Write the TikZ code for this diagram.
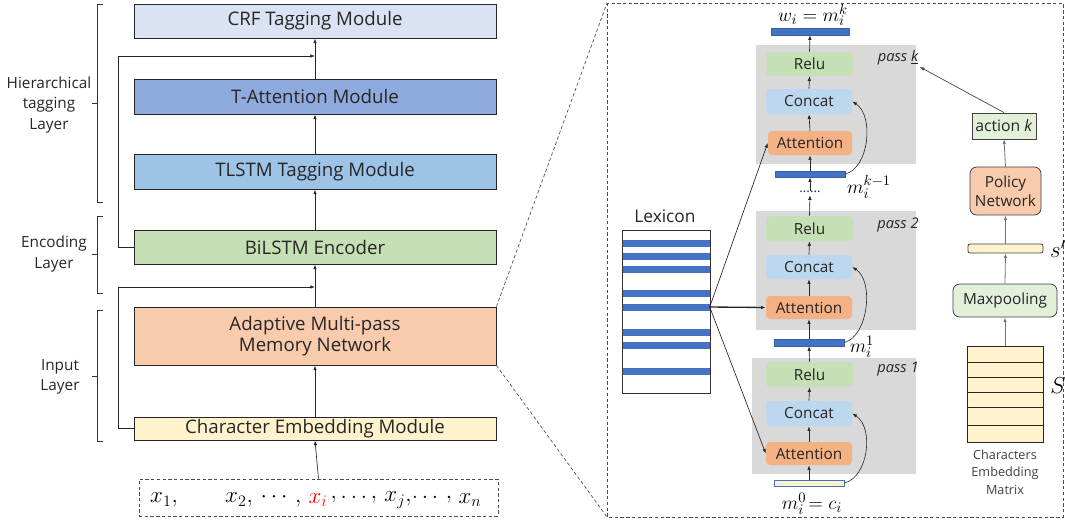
\documentclass[tikz,border=0pt]{standalone}
\usepackage{fontspec}
\setmainfont{Open Sans}
\usetikzlibrary{fit,arrows.meta}
\definecolor{crfc}{HTML}{DAE3F3}
\definecolor{tattc}{HTML}{8FAADC}
\definecolor{tlstmc}{HTML}{9DC3E6}
\definecolor{bilstmc}{HTML}{C5E0B4}
\definecolor{ammnc}{HTML}{F8CBAD}
\definecolor{embc}{HTML}{FFF2CC}
\definecolor{grayc}{HTML}{D9D9D9}
\definecolor{reluc}{HTML}{C5E0B4}
\definecolor{concatc}{HTML}{BDD7EE}
\definecolor{attnc}{HTML}{F4B183}
\definecolor{barc}{HTML}{4472C4}
\definecolor{actc}{HTML}{E2F0D9}
\definecolor{txtc}{HTML}{262626}
\begin{document}
\begin{tikzpicture}[x=0.75pt,y=-0.75pt,
  box/.style={draw=black!85, line width=0.75pt, inner sep=0pt},
  boxt/.style={label={[text=txtc, align=center, font=\fontsize{14}{17}\selectfont]center:#1}},
  smt/.style={label={[text=txtc, align=center, font=\fontsize{11.5}{14}\selectfont]center:#1}},
  arr/.style={-{Latex[length=3.5pt,width=2.6pt]}, line width=0.5pt, black!85},
  garr/.style={-{Latex[length=3.5pt,width=2.6pt]}, line width=0.6pt, black!55},
  inbox/.style={rounded corners=3pt, inner sep=0pt},
  gbox/.style={fill=grayc, inner sep=0pt},
  bar/.style={fill=barc, draw=barc!85!black, line width=0.3pt, inner sep=0pt},
  lbl/.style={text=txtc, font=\fontsize{11.5}{15.5}\selectfont, align=center},
  mth/.style={font=\fontsize{17}{19}\selectfont, inner sep=0pt},
  passlbl/.style={text=txtc, font=\fontsize{11}{13}\selectfont\itshape, inner sep=1pt},
  brk/.style={line width=0.6pt, black!80},
  dsh/.style={dash pattern=on 2.5pt off 1.8pt, line width=0.5pt, black!70}
]
\useasboundingbox (0,0) rectangle (1065,522);

% ---------------- left column ----------------
\node[box, fill=crfc, fit={(134,4) (496,38)}, boxt={CRF Tagging Module}] (crf) {};
\node[box, fill=tattc, fit={(134,79) (496,114)}, boxt={T-Attention Module}] (tatt) {};
\node[box, fill=tlstmc, fit={(134,154) (496,189)}, boxt={TLSTM Tagging Module}] (tlstm) {};
\node[box, fill=bilstmc, fit={(134,230) (496,264)}, boxt={BiLSTM Encoder}] (bilstm) {};
\node[box, fill=ammnc, fit={(134,307) (496,365)}, boxt={Adaptive Multi-pass\\[-1pt]Memory Network}] (ammn) {};
\node[box, fill=embc, fit={(134,417) (496,440)}, boxt={Character Embedding Module}] (emb) {};
\node[draw=black!70, dsh, inner sep=0pt, fit={(139,479) (498,516)}] (inp) {};

\node[mth] (x1) at (164,500) {$x_1,$};
\node[mth] (x2) at (239,500) {$x_2,$};
\node[mth] (xc) at (281,500) {$\cdots\,,$};
\node[mth] (xi) at (318,500) {\color{red}$x_i$};
\node[mth] (xd1) at (354,500) {$,\ldots,$};
\node[mth] (xj) at (398,500) {$x_j,$};
\node[mth] (xd2) at (432,500) {$\ldots\,,$};
\node[mth] (xn) at (470,500) {$x_n$};

\coordinate (j1) at (315,56);
\coordinate (j2) at (315,287);
\draw[arr] (tatt.north) -- (crf.south);
\draw[arr] (tlstm.north) -- (tatt.south);
\draw[arr] (bilstm.north) -- (tlstm.south);
\draw[arr] (ammn.north) -- (bilstm.south);
\draw[arr] (emb.north) -- (ammn.south);
\draw[arr] (inp.north) -- (emb.south);
\draw[arr] (bilstm.west) -- ++(-15,0) |- (j1);
\draw[arr] (emb.west) -- ++(-15,0) |- (j2);

% brackets
\draw[brk] (103,4) -- (97,4) -- (97,202) -- (103,202);
\draw[brk] (97,103) -- (92,103);
\draw[brk] (103,216) -- (97,216) -- (97,293) -- (103,293);
\draw[brk] (97,254) -- (92,254);
\draw[brk] (103,310) -- (97,310) -- (97,441) -- (103,441);
\draw[brk] (97,376) -- (92,376);
\node[lbl] (hl) at (49,105) {Hierarchical\\tagging\\Layer};
\node[lbl] (el) at (54,254) {Encoding\\Layer};
\node[lbl] (il) at (60,377) {Input\\Layer};

% zoom box
\coordinate (rtl) at (607,3);
\coordinate (rbl) at (607,517);
\draw[dsh] (607,3) rectangle (1063,517);
\draw[dsh] (ammn.north east) -- (rtl);
\draw[dsh] (ammn.south east) -- (rbl);

% ---------------- right panel ----------------
\node[gbox, fit={(756,45) (916,164)}] (pk) {};
\node[gbox, fit={(756,211) (916,330)}] (p2) {};
\node[gbox, fit={(752,358) (916,474)}] (p1) {};

\node[passlbl] (lk) at (898,58) {pass \underline{k}};
\node[passlbl] (l2) at (898,225) {pass 2};
\node[passlbl] (l1) at (898,369) {pass 1};

% pass k
\node[inbox, fill=reluc, fit={(766,52) (853,76)}, smt={Relu}] (rk) {};
\node[inbox, fill=concatc, fit={(766,89) (852,114)}, smt={Concat}] (ck) {};
\node[inbox, fill=attnc, fit={(768,131) (852,155)}, smt={Attention}] (ak) {};
% pass 2
\node[inbox, fill=reluc, fit={(766,216) (853,241)}, smt={Relu}] (r2) {};
\node[inbox, fill=concatc, fit={(766,255) (852,279)}, smt={Concat}] (c2) {};
\node[inbox, fill=attnc, fit={(766,296) (852,319)}, smt={Attention}] (a2) {};
% pass 1
\node[inbox, fill=reluc, fit={(766,362) (853,387)}, smt={Relu}] (r1) {};
\node[inbox, fill=concatc, fit={(766,401) (852,426)}, smt={Concat}] (c1) {};
\node[inbox, fill=attnc, fit={(766,442) (852,465)}, smt={Attention}] (a1) {};

% bars
\node[bar, fit={(771,28) (849,35)}] (wb) {};
\node[bar, fit={(775,171) (845,177)}] (bk) {};
\node[bar, fit={(774,339) (844,346)}] (b1) {};
\node[bar, fill=embc, draw=barc, line width=0.6pt, fit={(774,480) (844,486)}] (b0) {};
\node[text=txtc, inner sep=0pt, font=\fontsize{10}{10}\selectfont] (dots) at (810,192) {......};

\node[mth, font=\fontsize{15}{17}\selectfont] (wl) at (813,15) {$w_i = m_i^k$};
\node[mth, font=\fontsize{15}{17}\selectfont] (mkl) at (869,187) {$m_i^{k-1}$};
\node[mth, font=\fontsize{15}{17}\selectfont] (m1l) at (862,347) {$m_i^{1}$};
\node[mth, font=\fontsize{15}{17}\selectfont] (m0l) at (812,504) {$m_i^{0}\!= c_i$};

\draw[arr] (b0.north) -- (a1.south);
\draw[arr] (a1.north) -- (c1.south);
\draw[arr] (c1.north) -- (r1.south);
\draw[arr] (r1.north) -- (b1.south);
\draw[arr] (b1.north) -- (a2.south);
\draw[arr] (a2.north) -- (c2.south);
\draw[arr] (c2.north) -- (r2.south);
\draw[arr] (r2.north) -- ([yshift=-1.5pt]dots.south);
\draw[arr] (dots.north) -- (bk.south);
\draw[arr] (bk.north) -- (ak.south);
\draw[arr] (ak.north) -- (ck.south);
\draw[arr] (ck.north) -- (rk.south);
\draw[arr] (rk.north) -- (wb.south);

\draw[arr, line width=0.45pt] (b0.east) .. controls +(24,-6) and +(22,14) .. (c1.east);
\draw[arr, line width=0.45pt] (b1.east) .. controls +(24,-6) and +(22,14) .. (c2.east);
\draw[arr, line width=0.45pt] (bk.east) .. controls +(24,-6) and +(22,14) .. (ck.east);

% lexicon
\node[lbl, font=\fontsize{13}{15}\selectfont] (lexl) at (665,216) {Lexicon};
\node[draw=black!80, line width=0.6pt, fill=white, inner sep=0pt, fit={(622,230) (710,393)}] (lex) {};
\foreach \yy in {243,256,269,293,332,345,371}{
  \fill[barc] (622.5,\yy-3.5) rectangle (709.5,\yy+3.5);
}
\node[bar, draw=none, fit={(622.5,303.5) (709.5,310.5)}] (s5) {};
\draw[arr, line width=1pt] (s5.east) -- (a2.west);
\draw[arr] (s5.east) -- (ak.west);
\draw[arr] (s5.east) -- (a1.west);

% policy column
\node[draw=black!75, line width=0.6pt, fill=actc, inner sep=0pt, fit={(972,113) (1036,139)}, label={[text=txtc, font=\fontsize{11.8}{14}\selectfont]center:action \textit{k}}] (act) {};
\node[draw=black!75, line width=0.6pt, fill=ammnc, rounded corners=5pt, inner sep=0pt, fit={(970,167) (1041,215)}, smt={Policy\\Network}] (pol) {};
\node[draw=black!75, line width=0.6pt, fill=embc, rounded corners=1.5pt, inner sep=0pt, fit={(968,244) (1043,253)}] (sb) {};
\node[draw=black!75, line width=0.6pt, fill=actc, rounded corners=5pt, inner sep=0pt, fit={(953,284) (1057,317)}, smt={Maxpooling}] (mp) {};
\node[draw=black!85, line width=0.6pt, fill=embc, inner sep=0pt, fit={(967,346) (1043,442)}] (mat) {};
\foreach \yy in {362,377,392,407,425}{
  \draw[black!85, line width=0.5pt] (967,\yy) -- (1043,\yy);
}
\node[lbl, font=\fontsize{9.5}{13}\selectfont, text=black!75] (matl) at (1005,472) {Characters\\Embedding\\Matrix};
\node[mth] (sl) at (1058,249) {$s'$};
\node[mth] (Sl) at (1058,386) {$S$};

\draw[garr] (mat.north) -- (mp.south);
\draw[garr] (mp.north) -- (sb.south);
\draw[garr] (sb.north) -- (pol.south);
\draw[garr] (pol.north) -- (act.south);
\draw[arr, black!75] (act.north) -- (lk.south east);
\end{tikzpicture}
\end{document}
